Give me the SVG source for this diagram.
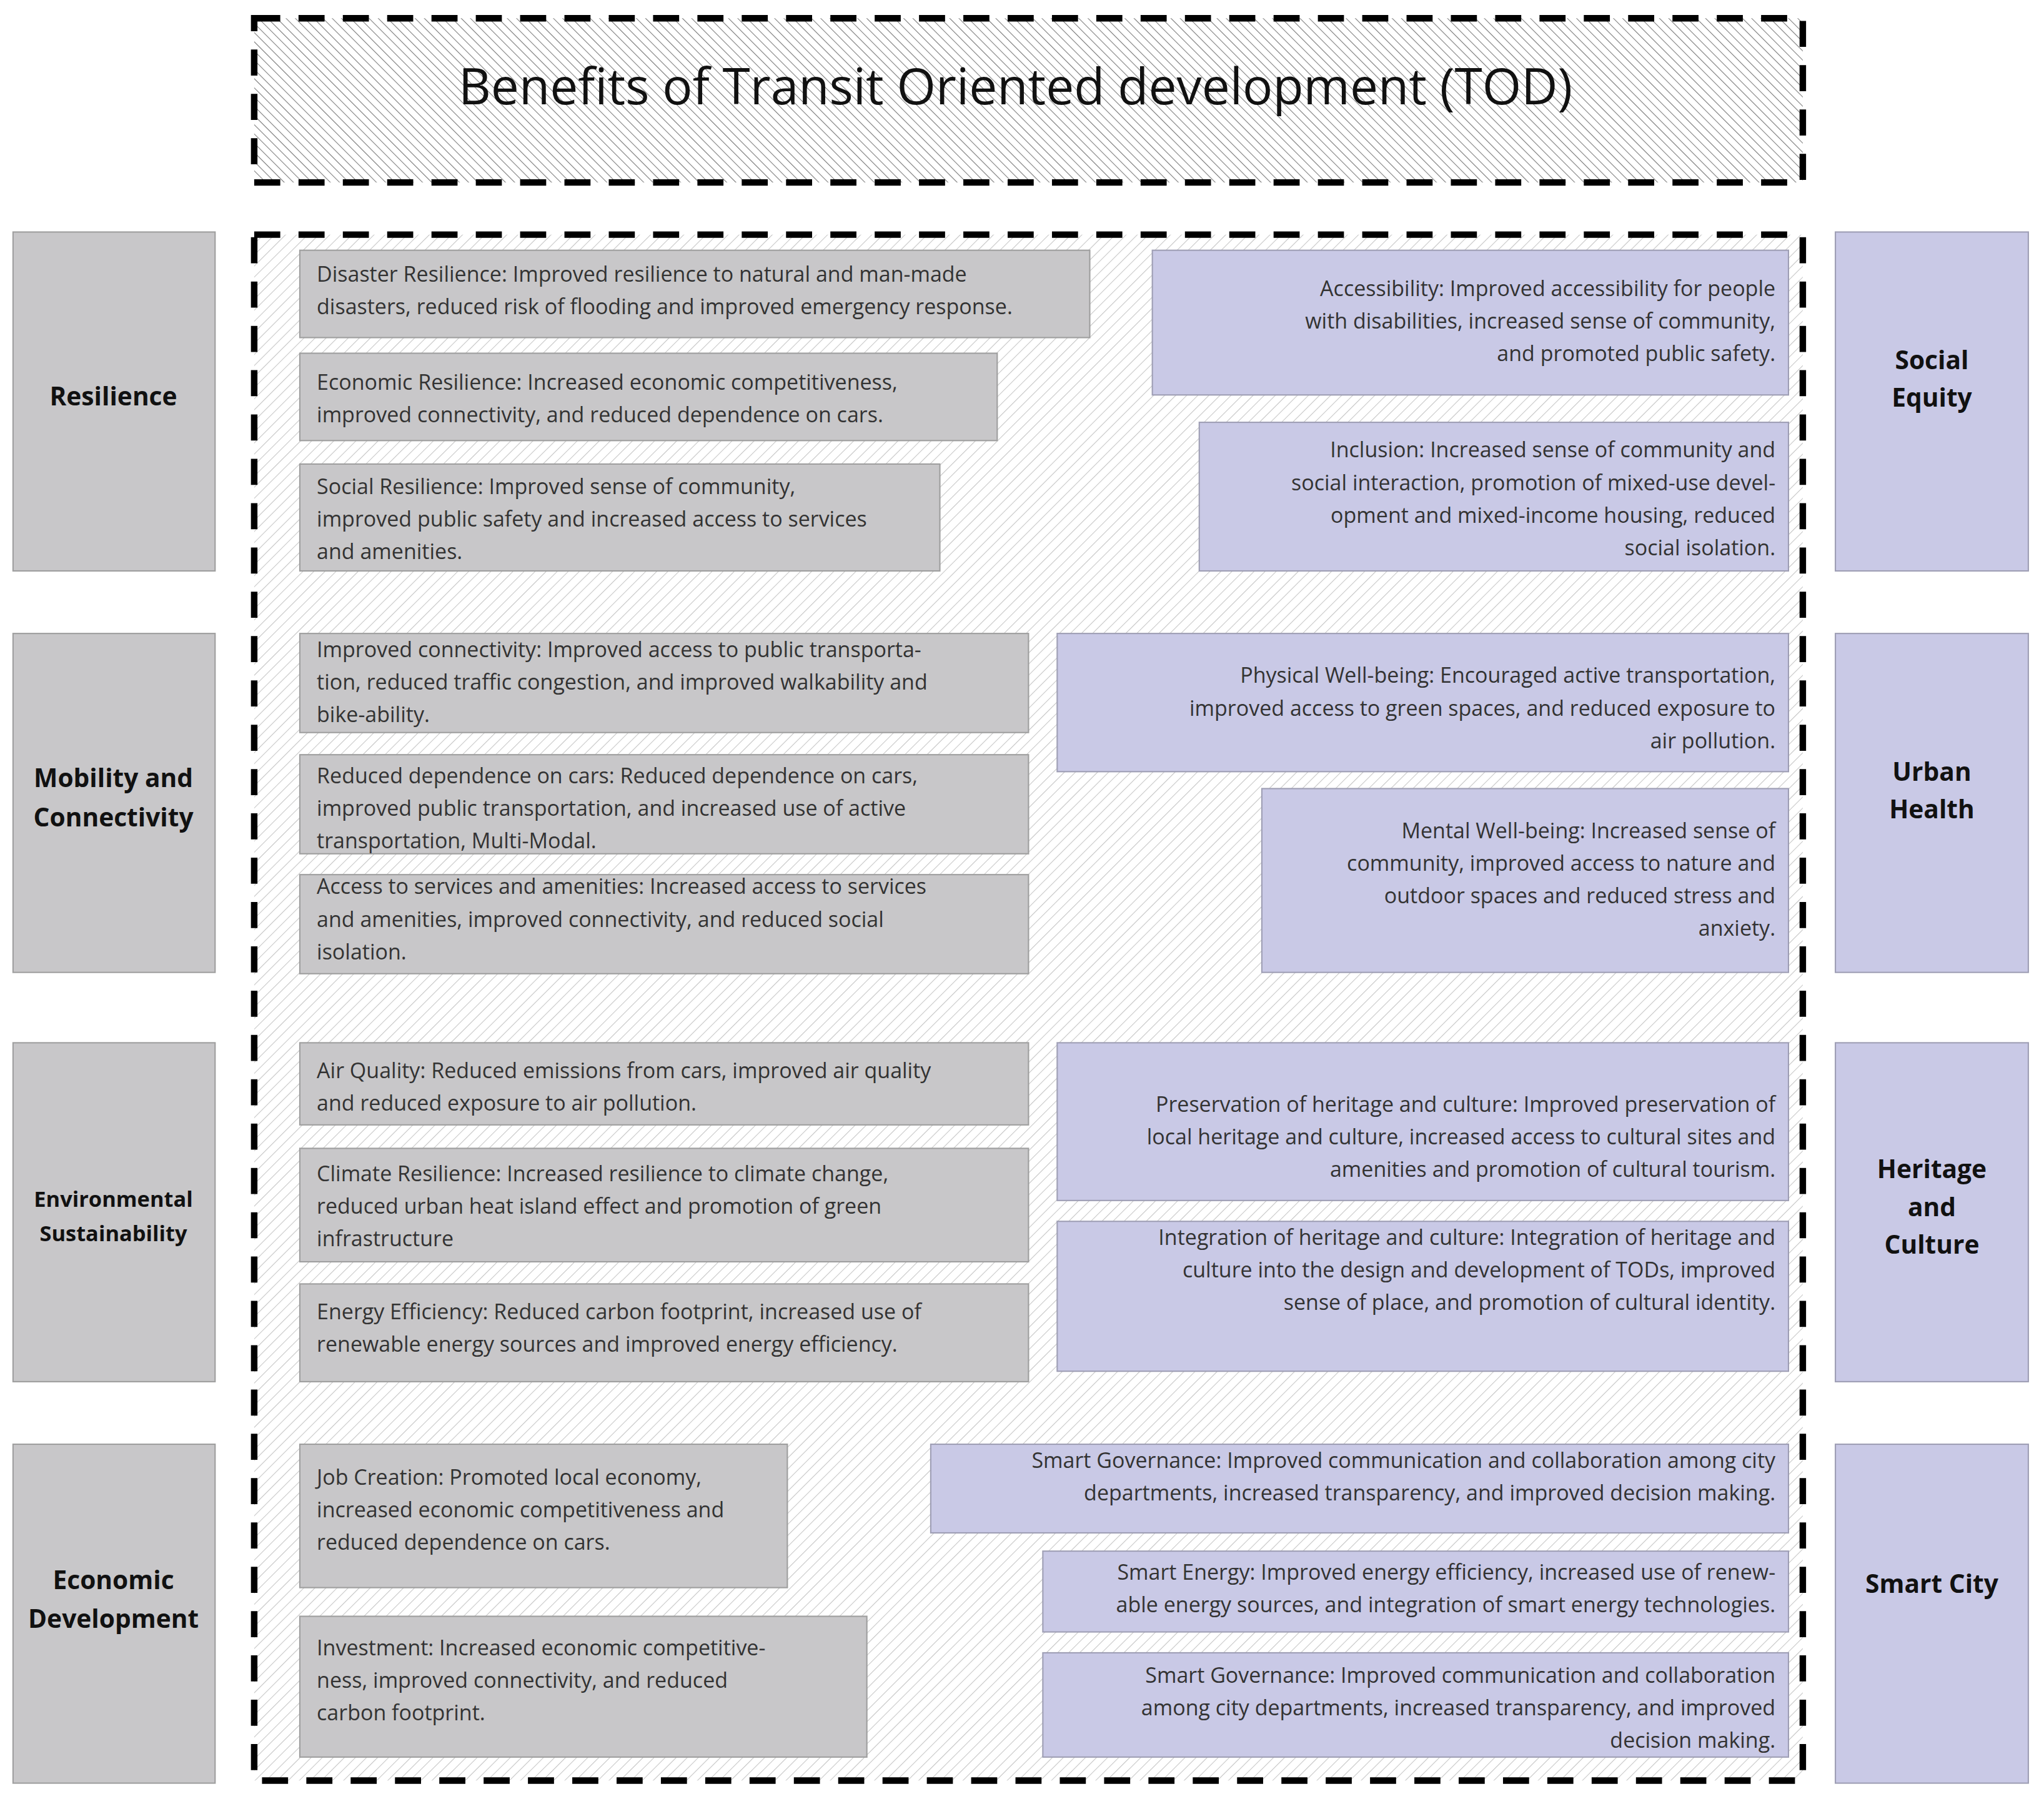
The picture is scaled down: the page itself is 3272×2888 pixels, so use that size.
<svg xmlns="http://www.w3.org/2000/svg" width="3272" height="2888" viewBox="0 0 3272 2888">
<defs>
<pattern id="h1" patternUnits="userSpaceOnUse" width="5" height="5" patternTransform="rotate(-45)"><rect width="5" height="5" fill="#fff"/><line x1="0" y1="0" x2="0" y2="5" stroke="#777" stroke-width="1"/></pattern>
<pattern id="h2" patternUnits="userSpaceOnUse" width="6" height="6" patternTransform="rotate(45)"><rect width="6" height="6" fill="#fff"/><line x1="0" y1="0" x2="0" y2="6" stroke="#c4c4c4" stroke-width="1"/></pattern>
</defs>
<style>
.g{fill:#c8c7c9;stroke:#9e9e9e;stroke-width:1}
.b{fill:#c9c9e6;stroke:#9e9eb4;stroke-width:1}
.t{font-family:"Open Sans","Liberation Sans",sans-serif;font-size:16.3px;fill:#333}
.r{text-anchor:end}
.c{font-family:"Open Sans","Liberation Sans",sans-serif;font-size:19.5px;font-weight:bold;fill:#111;text-anchor:middle}
.d{fill:none;stroke:#000;stroke-width:5;stroke-dasharray:20 14}
</style>
<rect width="3272" height="2888" fill="#fff"/>
<g transform="scale(2.0867)">
<g id="title"><rect x="195" y="14" width="1188" height="126" fill="url(#h1)"/><rect x="195" y="14" width="1188" height="126" class="d"/>
<text x="779" y="80" font-family="Open Sans, Liberation Sans, sans-serif" font-size="38.5" fill="#111" text-anchor="middle">Benefits of Transit Oriented development (TOD)</text></g>
<g id="main"><rect x="195" y="180" width="1188" height="1186" fill="url(#h2)"/><rect x="195" y="180" width="1188" height="1186" class="d"/></g>
<g id="cat-left">
<g id="resilience"><rect class="g" x="10" y="178" width="155" height="260"/><text class="c" x="87" y="311">Resilience</text></g>
<g id="mobility"><rect class="g" x="10" y="486" width="155" height="260"/><text class="c" x="87" y="604">Mobility and</text><text class="c" x="87" y="634">Connectivity</text></g>
<g id="environment"><rect class="g" x="10" y="800" width="155" height="260"/><text class="c" x="87" y="926" style="font-size:16.5px">Environmental</text><text class="c" x="87" y="952" style="font-size:16.5px">Sustainability</text></g>
<g id="economic"><rect class="g" x="10" y="1108" width="155" height="260"/><text class="c" x="87" y="1219">Economic</text><text class="c" x="87" y="1249">Development</text></g>
</g>
<g id="cat-right">
<g id="social"><rect class="b" x="1408" y="178" width="148" height="260"/><text class="c" x="1482" y="283">Social</text><text class="c" x="1482" y="312">Equity</text></g>
<g id="health"><rect class="b" x="1408" y="486" width="148" height="260"/><text class="c" x="1482" y="599">Urban</text><text class="c" x="1482" y="628">Health</text></g>
<g id="heritage"><rect class="b" x="1408" y="800" width="148" height="260"/><text class="c" x="1482" y="904">Heritage</text><text class="c" x="1482" y="933">and</text><text class="c" x="1482" y="962">Culture</text></g>
<g id="smart"><rect class="b" x="1408" y="1108" width="148" height="260"/><text class="c" x="1482" y="1222">Smart City</text></g>
</g>
<g id="left-items">
<g id="l1"><rect class="g" x="230" y="192" width="606" height="67"/><text class="t" x="243" y="216">Disaster Resilience: Improved resilience to natural and man-made</text><text class="t" x="243" y="241">disasters, reduced risk of flooding and improved emergency response.</text></g>
<g id="l2"><rect class="g" x="230" y="271" width="535" height="67"/><text class="t" x="243" y="299">Economic Resilience: Increased economic competitiveness,</text><text class="t" x="243" y="324">improved connectivity, and reduced dependence on cars.</text></g>
<g id="l3"><rect class="g" x="230" y="356" width="491" height="82"/><text class="t" x="243" y="379">Social Resilience: Improved sense of community,</text><text class="t" x="243" y="404">improved public safety and increased access to services</text><text class="t" x="243" y="429">and amenities.</text></g>
<g id="l4"><rect class="g" x="230" y="486" width="559" height="76"/><text class="t" x="243" y="504">Improved connectivity: Improved access to public transporta-</text><text class="t" x="243" y="529">tion, reduced traffic congestion, and improved walkability and</text><text class="t" x="243" y="554">bike-ability.</text></g>
<g id="l5"><rect class="g" x="230" y="579" width="559" height="76"/><text class="t" x="243" y="601">Reduced dependence on cars: Reduced dependence on cars,</text><text class="t" x="243" y="626">improved public transportation, and increased use of active</text><text class="t" x="243" y="651">transportation, Multi-Modal.</text></g>
<g id="l6"><rect class="g" x="230" y="671" width="559" height="76"/><text class="t" x="243" y="686">Access to services and amenities: Increased access to services</text><text class="t" x="243" y="711">and amenities, improved connectivity, and reduced social</text><text class="t" x="243" y="736">isolation.</text></g>
<g id="l7"><rect class="g" x="230" y="800" width="559" height="63"/><text class="t" x="243" y="827">Air Quality: Reduced emissions from cars, improved air quality</text><text class="t" x="243" y="852">and reduced exposure to air pollution.</text></g>
<g id="l8"><rect class="g" x="230" y="881" width="559" height="87"/><text class="t" x="243" y="906">Climate Resilience: Increased resilience to climate change,</text><text class="t" x="243" y="931">reduced urban heat island effect and promotion of green</text><text class="t" x="243" y="956">infrastructure</text></g>
<g id="l9"><rect class="g" x="230" y="985" width="559" height="75"/><text class="t" x="243" y="1012">Energy Efficiency: Reduced carbon footprint, increased use of</text><text class="t" x="243" y="1037">renewable energy sources and improved energy efficiency.</text></g>
<g id="l10"><rect class="g" x="230" y="1108" width="374" height="110"/><text class="t" x="243" y="1139">Job Creation: Promoted local economy,</text><text class="t" x="243" y="1164">increased economic competitiveness and</text><text class="t" x="243" y="1189">reduced dependence on cars.</text></g>
<g id="l11"><rect class="g" x="230" y="1240" width="435" height="108"/><text class="t" x="243" y="1270">Investment: Increased economic competitive-</text><text class="t" x="243" y="1295">ness, improved connectivity, and reduced</text><text class="t" x="243" y="1320">carbon footprint.</text></g>
</g>
<g id="right-items">
<g id="r1"><rect class="b" x="884" y="192" width="488" height="111"/><text class="t r" x="1362" y="227">Accessibility: Improved accessibility for people</text><text class="t r" x="1362" y="252">with disabilities, increased sense of community,</text><text class="t r" x="1362" y="277">and promoted public safety.</text></g>
<g id="r2"><rect class="b" x="920" y="324" width="452" height="114"/><text class="t r" x="1362" y="351">Inclusion: Increased sense of community and</text><text class="t r" x="1362" y="376">social interaction, promotion of mixed-use devel-</text><text class="t r" x="1362" y="401">opment and mixed-income housing, reduced</text><text class="t r" x="1362" y="426">social isolation.</text></g>
<g id="r3"><rect class="b" x="811" y="486" width="561" height="106"/><text class="t r" x="1362" y="524">Physical Well-being: Encouraged active transportation,</text><text class="t r" x="1362" y="549">improved access to green spaces, and reduced exposure to</text><text class="t r" x="1362" y="574">air pollution.</text></g>
<g id="r4"><rect class="b" x="968" y="605" width="404" height="141"/><text class="t r" x="1362" y="643">Mental Well-being: Increased sense of</text><text class="t r" x="1362" y="668">community, improved access to nature and</text><text class="t r" x="1362" y="693">outdoor spaces and reduced stress and</text><text class="t r" x="1362" y="718">anxiety.</text></g>
<g id="r5"><rect class="b" x="811" y="800" width="561" height="121"/><text class="t r" x="1362" y="853">Preservation of heritage and culture: Improved preservation of</text><text class="t r" x="1362" y="878">local heritage and culture, increased access to cultural sites and</text><text class="t r" x="1362" y="903">amenities and promotion of cultural tourism.</text></g>
<g id="r6"><rect class="b" x="811" y="937" width="561" height="115"/><text class="t r" x="1362" y="955">Integration of heritage and culture: Integration of heritage and</text><text class="t r" x="1362" y="980">culture into the design and development of TODs, improved</text><text class="t r" x="1362" y="1005">sense of place, and promotion of cultural identity.</text></g>
<g id="r7"><rect class="b" x="714" y="1108" width="658" height="68"/><text class="t r" x="1362" y="1126">Smart Governance: Improved communication and collaboration among city</text><text class="t r" x="1362" y="1151">departments, increased transparency, and improved decision making.</text></g>
<g id="r8"><rect class="b" x="800" y="1190" width="572" height="62"/><text class="t r" x="1362" y="1212">Smart Energy: Improved energy efficiency, increased use of renew-</text><text class="t r" x="1362" y="1237">able energy sources, and integration of smart energy technologies.</text></g>
<g id="r9"><rect class="b" x="800" y="1268" width="572" height="80"/><text class="t r" x="1362" y="1291">Smart Governance: Improved communication and collaboration</text><text class="t r" x="1362" y="1316">among city departments, increased transparency, and improved</text><text class="t r" x="1362" y="1341">decision making.</text></g>
</g>
<g id="connectors"/>
</g>
</svg>
